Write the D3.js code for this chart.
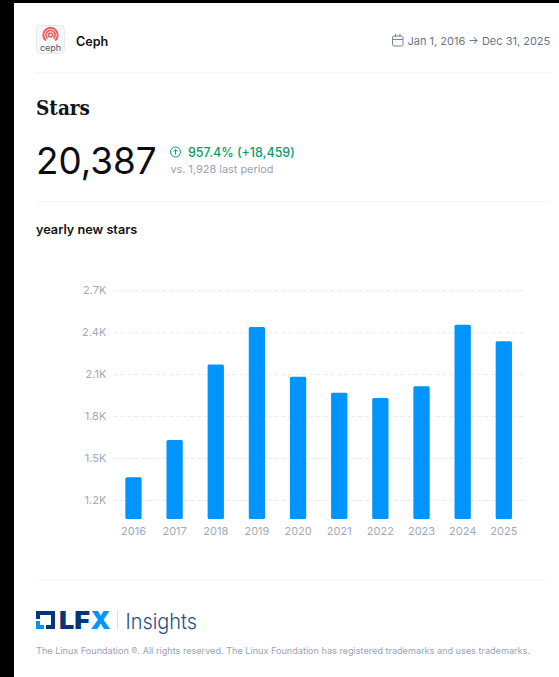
<!DOCTYPE html>
<html><head><meta charset="utf-8">
<script src="https://cdn.jsdelivr.net/npm/d3@7"></script>
<style>html,body{margin:0;padding:0;background:#000;overflow:hidden}svg{display:block}text{font-family:Inter,sans-serif}</style>
</head><body><div id="c"></div>
<script>
const years=["2016","2017","2018","2019","2020","2021","2022","2023","2024","2025"];
const newStars=[1362,1629,2170,2437,2082,1967,1929,2013,2454,2335];
const tickValues=[1200,1500,1800,2100,2400,2700];
const W=559,H=677;
const svg=d3.select("#c").append("svg").attr("width",W).attr("height",H);
svg.append("rect").attr("x",14).attr("y",3).attr("width",W-14).attr("height",H-3).attr("fill","#fff");
const rule=y=>svg.append("rect").attr("x",36).attr("y",y).attr("width",514).attr("height",1).attr("fill","#f4f5f7");
[72,201,579].forEach(rule);
const T=(x,y,s,size,fill,w,a)=>svg.append("text").attr("x",x).attr("y",y).attr("font-size",size).attr("fill",fill).attr("font-weight",w||400).attr("text-anchor",a||"start").text(s);

svg.append("rect").attr("x",36.5).attr("y",25.5).attr("width",28).attr("height",28).attr("rx",4).attr("fill","#f5f7fa").attr("stroke","#e5e8ee");
const lg=svg.append("g").attr("fill","none").attr("stroke","#ef5c55").attr("stroke-linecap","round");
[[7.2,2],[4.6,1.6]].forEach(([r,w])=>lg.append("path").attr("d",d3.arc()({innerRadius:r,outerRadius:r,startAngle:-2.45,endAngle:2.45})).attr("transform","translate(50.5,35)").attr("stroke-width",w));
lg.append("circle").attr("cx",50.5).attr("cy",35).attr("r",2).attr("stroke-width",1.5);
T(50.5,51,"ceph",9,"#555c66",400,"middle");
T(76,45.5,"Ceph",12.6,"#111318",600);

const cal=svg.append("g").attr("fill","none").attr("stroke","#7a8599").attr("stroke-width",1);
cal.append("rect").attr("x",392.5).attr("y",36).attr("width",10.5).attr("height",10).attr("rx",1.5);
cal.append("path").attr("d","M392.5 39.5H403M395.5 34V37M400 34V37");
T(407.5,44.5,"Jan 1, 2016 → Dec 31, 2025",11,"#69758a");

svg.append("text").attr("x",36).attr("y",115).attr("font-size",21).attr("font-weight",700).attr("fill","#111318").style("font-family","'DejaVu Serif',serif").attr("textLength",54).attr("lengthAdjust","spacingAndGlyphs").text("Stars");
T(36,174,"20,387",36.8,"#0b0d12",400);
const up=svg.append("g").attr("fill","none").attr("stroke","#119a6c").attr("stroke-width",1);
up.append("circle").attr("cx",175.5).attr("cy",152).attr("r",5);
up.append("path").attr("d","M175.5 154.5V149.8M173.6 151.5L175.5 149.6L177.4 151.5");
T(188,157,"957.4% (+18,459)",12.5,"#0f9b6e",500);
T(170.5,172.5,"vs. 1,928 last period",10.9,"#98a3b5");
T(36,233.5,"yearly new stars",12.7,"#111318",600);

const x=d3.scaleBand().domain(years).range([112.9,524.4]).paddingInner(0.604).paddingOuter(0.302);
const y=d3.scaleLinear().domain([1200,2700]).range([500,290.3]);
const base=519;
const g=svg.append("g");
const yAxis=g.append("g").attr("transform","translate(113.3,0)").call(d3.axisLeft(y).tickValues(tickValues).tickSize(0).tickPadding(7).tickFormat(d=>d3.format(".1f")(d/1000)+"K"));
yAxis.select(".domain").remove();
yAxis.selectAll("text").attr("font-size",11).attr("fill","#a0aaba").style("font-family","Inter,sans-serif");
yAxis.selectAll(".tick line").attr("x2",410.7).attr("stroke","#e6e9ee").attr("stroke-width",1).attr("stroke-dasharray","4 3");
g.selectAll("path.bar").data(newStars).join("path").attr("class","bar").attr("fill","#0094ff")
 .attr("d",(d,i)=>{const l=x(years[i]),w=x.bandwidth(),t=y(d),r=1.5;
   return `M${l} ${base-r}V${t+r}Q${l} ${t} ${l+r} ${t}H${l+w-r}Q${l+w} ${t} ${l+w} ${t+r}V${base-r}Q${l+w} ${base} ${l+w-r} ${base}H${l+r}Q${l} ${base} ${l} ${base-r}Z`;});
const xAxis=g.append("g").attr("transform",`translate(0,${base})`).call(d3.axisBottom(x).tickSize(0).tickPadding(8));
xAxis.select(".domain").remove();
xAxis.selectAll("text").attr("font-size",11).attr("fill","#a0aaba").style("font-family","Inter,sans-serif");

const f=svg.append("g");
f.append("path").attr("fill","#003778").attr("d","M36 611H55V629H46V625H51V615H40V619H36Z");
f.append("path").attr("fill","#0094ff").attr("d","M36 621H40V625H44V629H36Z");
svg.append("text").attr("x",59).attr("y",629).attr("font-size",25).attr("font-weight",900).attr("fill","#003778").style("font-family","Inter").attr("textLength",31).attr("lengthAdjust","spacingAndGlyphs").text("LF");
svg.append("text").attr("x",90.5).attr("y",629).attr("font-size",25).attr("font-weight",900).attr("fill","#0094ff").style("font-family","Inter").attr("textLength",20).attr("lengthAdjust","spacingAndGlyphs").text("X");
svg.append("rect").attr("x",117).attr("y",610).attr("width",1).attr("height",20).attr("fill","#dde1e8");
svg.append("text").attr("x",125.5).attr("y",629).attr("font-size",21.5).attr("font-weight",300).attr("fill","#1d4f86").attr("textLength",71.5).attr("lengthAdjust","spacingAndGlyphs").text("Insights");
T(36,654,"The Linux Foundation ®. All rights reserved. The Linux Foundation has registered trademarks and uses trademarks.",9.12,"#98a3b5");
</script></body></html>
